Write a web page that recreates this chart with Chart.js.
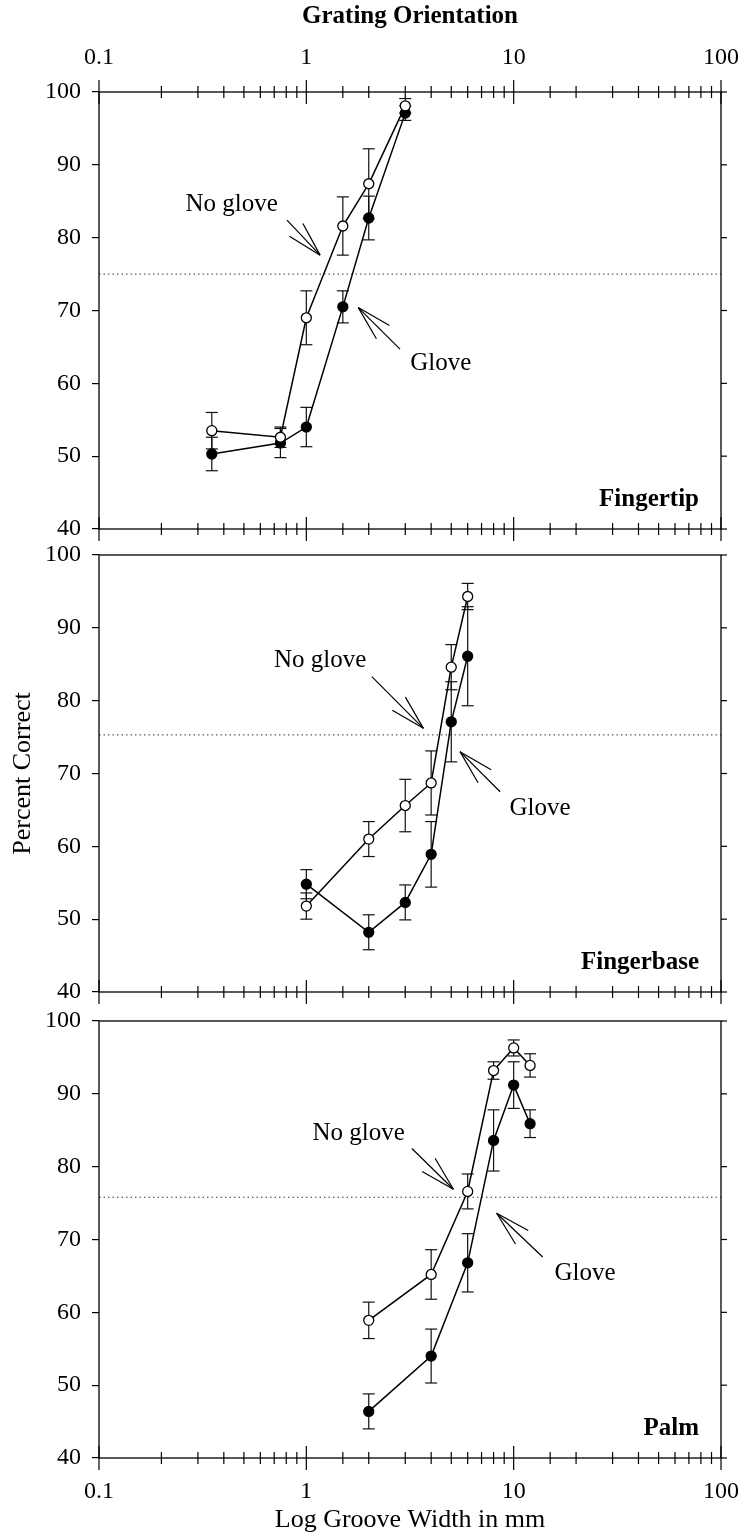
<!DOCTYPE html>
<html>
<head>
<meta charset="utf-8">
<title>Grating Orientation</title>
<script src="https://cdn.jsdelivr.net/npm/chart.js@4.4.1/dist/chart.umd.min.js"></script>
<style>
  html, body { margin: 0; padding: 0; background: #fff; }
  #wrap { position: relative; width: 744px; height: 1537px; }
  canvas { position: absolute; left: 0; }
</style>
</head>
<body>
<div id="wrap">
  <canvas id="tip" width="744" height="545" style="top:0"></canvas>
  <canvas id="base" width="744" height="460" style="top:545px"></canvas>
  <canvas id="palm" width="744" height="532" style="top:1005px"></canvas>
</div>
<script>
// --- values ---
const xDecades = [0.1, 1, 10, 100];
const xTickLabels = ['0.1', '1', '10', '100'];
const yTicks = [40, 50, 60, 70, 80, 90, 100];

// Fingertip
const tipWidths = [0.35, 0.75, 1, 1.5, 2, 3];
const tipNoGlove = [53.5, 52.6, 69.0, 81.6, 87.4, 98.1];
const tipNoGloveErr = [2.5, 1.4, 3.7, 4.0, 4.8, 1.0];
const tipGlove = [50.3, 51.8, 54.0, 70.5, 82.7, 97.1];
const tipGloveErr = [2.3, 2.0, 2.7, 2.2, 3.0, 1.0];

// Fingerbase
const baseWidths = [1, 2, 3, 4, 5, 6];
const baseNoGlove = [51.8, 61.0, 65.6, 68.7, 84.6, 94.3];
const baseNoGloveErr = [1.8, 2.4, 3.6, 4.4, 3.1, 1.8];
const baseGlove = [54.8, 48.2, 52.3, 58.9, 77.1, 86.1];
const baseGloveErr = [2.0, 2.4, 2.4, 4.5, 5.5, 6.8];

// Palm
const palmWidths = [2, 4, 6, 8, 10, 12];
const palmNoGlove = [58.9, 65.2, 76.6, 93.2, 96.3, 93.9];
const palmNoGloveErr = [2.5, 3.4, 2.4, 1.2, 1.1, 1.6];
const palmGlove = [46.4, 54.0, 66.8, 83.6, 91.2, 85.9];
const palmGloveErr = [2.4, 3.7, 4.0, 4.2, 3.2, 1.9];

// 75% threshold line per panel
const thresholds = [75, 75.3, 75.8];

const SERIF = "'Liberation Serif', 'DejaVu Serif', serif";

function line(ctx, x0, y0, x1, y1) {
    ctx.beginPath();
    ctx.moveTo(x0, y0);
    ctx.lineTo(x1, y1);
    ctx.stroke();
}

function arrow(ctx, x0, y0, x1, y1) {
    line(ctx, x0, y0, x1, y1);
    const ang = Math.atan2(y0 - y1, x0 - x1);
    [-0.26, 0.26].forEach(d => {
        line(ctx, x1, y1, x1 + 36 * Math.cos(ang + d), y1 + 36 * Math.sin(ang + d));
    });
}

function isDecade(v) {
    const l = Math.log10(v);
    return Math.abs(l - Math.round(l)) < 1e-6;
}

function decadeLabel(value) {
    const i = xDecades.findIndex(d => Math.abs(d - value) < 1e-9);
    return i >= 0 ? xTickLabels[i] : '';
}

// Draws frame, crossing ticks, error bars, 75% line and the notes
function figurePlugin(p) {
    return {
        id: 'figure',
        beforeDatasetsDraw(chart) {
            const ctx = chart.ctx, xs = chart.scales.x, ys = chart.scales.y, a = chart.chartArea;
            ctx.save();
            ctx.strokeStyle = '#333';
            ctx.lineWidth = 1;
            ctx.setLineDash([1.5, 3]);
            const ty = ys.getPixelForValue(p.threshold);
            line(ctx, a.left, ty, a.right, ty);
            ctx.setLineDash([]);

            // error bars
            ctx.strokeStyle = '#111';
            ctx.lineWidth = 1.2;
            p.series.forEach(s => s.values.forEach((v, i) => {
                const px = xs.getPixelForValue(p.widths[i]);
                const top = ys.getPixelForValue(v + s.err[i]);
                const bot = ys.getPixelForValue(v - s.err[i]);
                line(ctx, px, top, px, bot);
                line(ctx, px - 6, top, px + 6, top);
                line(ctx, px - 6, bot, px + 6, bot);
            }));
            ctx.restore();
        },
        afterDraw(chart) {
            const ctx = chart.ctx, xs = chart.scales.x, ys = chart.scales.y, a = chart.chartArea;
            ctx.save();
            ctx.strokeStyle = '#000';
            ctx.lineWidth = 1.3;
            ctx.strokeRect(a.left, a.top, a.right - a.left, a.bottom - a.top);

            // log ticks crossing the horizontal axes
            ctx.lineWidth = 1.2;
            p.tickEdges.forEach(edge => {
                const ey = edge === 'top' ? a.top : a.bottom;
                xs.ticks.forEach(t => {
                    const px = xs.getPixelForValue(t.value);
                    const h = isDecade(t.value) ? 12 : 6;
                    line(ctx, px, ey - h, px, ey + h);
                });
            });

            // right axis ticks
            yTicks.forEach(v => {
                const py = ys.getPixelForValue(v);
                line(ctx, a.right, py, a.right + 6, py);
            });

            // arrows and their labels
            ctx.fillStyle = '#000';
            ctx.textAlign = 'center';
            ctx.textBaseline = 'middle';
            ctx.font = '25px ' + SERIF;
            ctx.lineWidth = 1.2;
            p.notes.forEach(n => {
                ctx.fillText(n.text, xs.getPixelForValue(n.tx), ys.getPixelForValue(n.ty));
                arrow(ctx,
                    xs.getPixelForValue(n.from[0]), ys.getPixelForValue(n.from[1]),
                    xs.getPixelForValue(n.to[0]), ys.getPixelForValue(n.to[1]));
            });

            // panel name
            ctx.font = 'bold 25px ' + SERIF;
            ctx.textAlign = 'right';
            ctx.textBaseline = 'alphabetic';
            ctx.fillText(p.name, a.right - 22, a.bottom - 23);
            ctx.restore();
        }
    };
}

function makePanel(id, p) {
    const tickFont = { family: SERIF, size: 24 };
    const titleFont = { family: SERIF, size: 26 };
    const scales = {
        x: {
            type: 'logarithmic', min: 0.1, max: 100, position: 'bottom',
            grid: { display: false, drawTicks: false },
            border: { display: false },
            ticks: {
                display: !!p.bottomLabels, autoSkip: false, maxRotation: 0, minRotation: 0,
                color: '#000', font: tickFont, padding: 19, callback: decadeLabel
            },
            title: {
                display: !!p.xTitle, text: p.xTitle || '', color: '#000',
                font: titleFont, padding: { top: 0, bottom: 1 }
            },
            afterFit(s) { s.height = p.bottomH; s.paddingLeft = 0; s.paddingRight = 0; }
        },
        y: {
            min: 40, max: 100,
            ticks: { stepSize: 10, color: '#000', font: tickFont, padding: 11 },
            grid: { drawOnChartArea: false, drawTicks: true, tickLength: 7, color: '#000', lineWidth: 1.2 },
            border: { display: false },
            title: {
                display: !!p.yTitle, text: p.yTitle || '', color: '#000',
                font: titleFont, padding: { top: 8, bottom: 0 }
            },
            afterFit(s) { s.width = 99; s.paddingTop = 0; s.paddingBottom = 0; }
        }
    };
    if (p.topTitle) {
        scales.x2 = {
            type: 'logarithmic', min: 0.1, max: 100, position: 'top',
            grid: { display: false, drawTicks: false },
            border: { display: false },
            ticks: {
                autoSkip: false, maxRotation: 0, minRotation: 0,
                color: '#000', font: tickFont, padding: 20, callback: decadeLabel
            },
            title: {
                display: true, text: p.topTitle, color: '#000',
                font: { family: SERIF, size: 25, weight: 'bold' }, padding: { top: 2, bottom: 0 }
            },
            afterFit(s) { s.height = p.topH; s.paddingLeft = 0; s.paddingRight = 0; }
        };
    }

    const ds = (vals, filled) => ({
        data: p.widths.map((w, i) => ({ x: w, y: vals[i] })),
        xAxisID: 'x', yAxisID: 'y',
        borderColor: '#000', borderWidth: 1.5, tension: 0, fill: false,
        pointRadius: 5, pointHoverRadius: 5, pointBorderWidth: 1.3,
        pointBorderColor: '#000', pointBackgroundColor: filled ? '#000' : '#fff'
    });

    new Chart(document.getElementById(id), {
        type: 'line',
        data: { datasets: [ds(p.series[0].values, false), ds(p.series[1].values, true)] },
        options: {
            responsive: false,
            animation: false,
            events: [],
            layout: { padding: { top: p.padTop, right: 23, bottom: 0, left: 0 } },
            plugins: { legend: { display: false }, tooltip: { enabled: false } },
            scales
        },
        plugins: [figurePlugin(p)]
    });
}

makePanel('tip', {
    name: 'Fingertip', widths: tipWidths, threshold: thresholds[0],
    series: [{ values: tipNoGlove, err: tipNoGloveErr }, { values: tipGlove, err: tipGloveErr }],
    notes: [
        { text: 'No glove', tx: 0.436, ty: 84.5, from: [0.807, 82.4], to: [1.165, 77.6] },
        { text: 'Glove', tx: 4.45, ty: 62.8, from: [2.83, 64.7], to: [1.78, 70.4] }
    ],
    tickEdges: ['top', 'bottom'], topTitle: 'Grating Orientation', topH: 92,
    padTop: 0, bottomH: 16
});

makePanel('base', {
    name: 'Fingerbase', widths: baseWidths, threshold: thresholds[1],
    series: [{ values: baseNoGlove, err: baseNoGloveErr }, { values: baseGlove, err: baseGloveErr }],
    notes: [
        { text: 'No glove', tx: 1.165, ty: 85.5, from: [2.07, 83.3], to: [3.67, 76.2] },
        { text: 'Glove', tx: 13.4, ty: 65.2, from: [8.6, 67.5], to: [5.51, 73.0] }
    ],
    tickEdges: ['bottom'], yTitle: 'Percent Correct',
    padTop: 10, bottomH: 13
});

makePanel('palm', {
    name: 'Palm', widths: palmWidths, threshold: thresholds[2],
    series: [{ values: palmNoGlove, err: palmNoGloveErr }, { values: palmGlove, err: palmGloveErr }],
    notes: [
        { text: 'No glove', tx: 1.786, ty: 84.5, from: [3.23, 82.5], to: [5.12, 76.9] },
        { text: 'Glove', tx: 22.1, ty: 65.4, from: [13.8, 67.6], to: [8.28, 73.6] }
    ],
    tickEdges: ['bottom'], bottomLabels: true, xTitle: 'Log Groove Width in mm',
    padTop: 16, bottomH: 79
});
</script>
</body>
</html>
